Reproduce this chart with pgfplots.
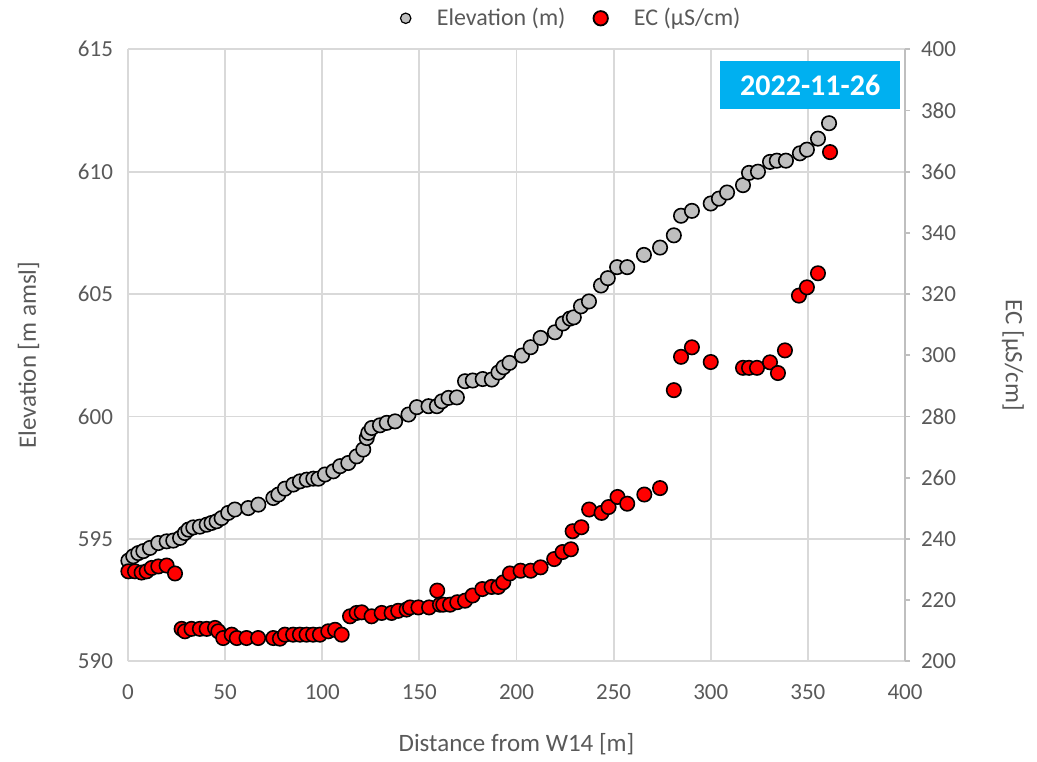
\documentclass[border=0pt]{standalone}
\usepackage{pgfplots}
\pgfplotsset{compat=1.18}
\usepackage{fontspec}
\setmainfont{Carlito}
\definecolor{gridc}{HTML}{D9D9D9}
\definecolor{txt}{HTML}{595959}
\definecolor{elev}{HTML}{BFBFBF}
\definecolor{ecc}{HTML}{FF0000}
\definecolor{datebox}{HTML}{00B0F0}
\begin{document}
\begin{tikzpicture}
\pgfplotsset{
  common/.style={
    scale only axis, width=388.5pt, height=306pt,
    at={(0,0)}, anchor=south west,
    xmin=0, xmax=400,
    /pgf/number format/assume math mode=true,
    tick label style={font=\fontsize{11.5}{13}\selectfont, text=txt},
    label style={font=\fontsize{12.5}{14}\selectfont, text=txt},
  }
}
\begin{axis}[common,
  ymin=590, ymax=615, ytick={590,595,...,615},
  xtick={0,50,...,400},
  grid=major, grid style={gridc, line width=0.9pt},
  axis line style={gridc, line width=0.9pt},
  axis x line*=bottom, axis y line*=left,
  major tick length=0pt,
  xticklabel style={yshift=-8pt},
  yticklabel style={xshift=-4pt},
  xlabel={Distance from W14 [m]},
  ylabel={Elevation [m amsl]},
  xlabel style={yshift=-10pt},
  ylabel style={yshift=12.5pt},
  legend columns=2,
  legend style={at={(0.5,1)}, anchor=center, xshift=28pt, yshift=15.5pt, draw=none, fill=none,
    font=\fontsize{12}{14}\selectfont\color{txt},
    /tikz/every odd column/.append style={column sep=11pt},
    /tikz/every even column/.append style={column sep=12pt}},
]
\addplot[only marks, mark=*, mark size=3.6pt, mark options={fill=elev, draw=black, line width=0.8pt}, forget plot] coordinates {
(0.2,594.11) (2.7,594.29) (5.3,594.42) (7.9,594.5) (11.3,594.63) (15.6,594.83)
(19.9,594.9) (23.3,594.93) (26.8,595.04) (29.3,595.24) (31.1,595.38) (33.6,595.47)
(37,595.5) (40.5,595.58) (43,595.65) (45.6,595.72) (48.2,595.85) (51.6,596.06)
(55,596.2) (61.9,596.26) (67.1,596.4) (74.8,596.67) (77.4,596.81) (80.8,597.05)
(85.1,597.22) (88.5,597.35) (92,597.42) (95.4,597.46) (98,597.46) (101.4,597.63)
(105.7,597.76) (109.2,597.97) (113.4,598.1) (117.7,598.37) (121.1,598.65) (122.9,599.12)
(123.7,599.33) (125.5,599.53) (129.7,599.64) (133.2,599.74) (137.5,599.8) (144.4,600.08)
(148.7,600.38) (154.7,600.42) (159,600.42) (161.6,600.62) (165,600.76) (169.3,600.78)
(173.5,601.44) (177.5,601.47) (182.6,601.53) (187.3,601.51) (190.7,601.8) (193.3,602.01)
(196.4,602.19) (202.8,602.49) (207.3,602.83) (212.4,603.21) (219.8,603.44) (223.9,603.8)
(227.5,604.0) (229.5,604.05) (233.2,604.5) (237.3,604.7) (243.5,605.35) (247,605.65)
(251.8,606.1) (257,606.1) (265.6,606.6) (273.9,606.9) (281,607.4) (284.7,608.2)
(290.3,608.4) (300,608.7) (304.2,608.9) (308.4,609.15) (316.6,609.45) (319.7,609.95)
(324.3,610.0) (330.5,610.4) (334,610.45) (338.7,610.45) (345.9,610.75) (349.5,610.9)
(355.2,611.35) (360.9,611.98)
};
\addlegendimage{only marks, mark=*, mark size=2.6pt, mark options={fill=elev, draw=black, line width=0.6pt}}
\addlegendentry{Elevation (m)}
\addlegendimage{only marks, mark=*, mark size=3.6pt, mark options={fill=ecc, draw=black, line width=0.9pt}}
\addlegendentry{EC (µS/cm)}
\end{axis}
\begin{axis}[common,
  ymin=200, ymax=400, ytick={200,220,...,400},
  axis x line=none, axis y line*=right,
  axis line style={elev, line width=0.9pt},
  ytick style={elev, line width=0.9pt},
  tick align=outside, major tick length=2.5pt,
  yticklabel style={xshift=2pt},
  ylabel={EC [µS/cm]},
  ylabel style={rotate=180, yshift=16pt},
]
\addplot[only marks, mark=*, mark size=3.6pt, mark options={fill=ecc, draw=black, line width=0.8pt}] coordinates {
(0.2,229.4) (3.6,229.4) (7,229.0) (9.6,229.4) (12.2,230.5) (15.6,231) (19.9,231.3)
(24.2,228.7) (27.6,210.6) (29.3,209.8) (32.7,210.6) (37,210.6) (40.5,210.6) (44.8,210.9)
(46.5,209.8) (49,207.6) (53.4,208.7) (56,207.6) (61,207.6) (67,207.6) (74.8,207.6)
(78.2,207.4) (80.8,208.7) (85,208.7) (88.5,208.7) (91.9,208.7) (95.3,208.7) (98.8,208.7)
(103.1,209.8) (106.6,210.3) (110,208.7) (114.3,214.7) (117.7,215.8) (120.3,216)
(125.4,214.7) (130.6,215.8) (135.7,215.8) (139.1,216.5) (143.4,216.9) (145.2,217.6)
(149.5,217.6) (155,217.6) (159.2,223.1) (160.6,218.5) (162.3,218.5) (165.8,218.5)
(169.5,219.3) (173.5,219.8) (177.4,221.5) (182.4,223.6) (187.2,224.3) (190.6,224.3)
(193.2,225.8) (196.6,228.7) (202.1,229.6) (207.3,229.6) (212.4,230.7) (219.4,233.4)
(223.7,235.7) (228,236.6) (228.9,242.5) (233.4,243.8) (237.4,249.6) (243.8,248.5)
(247.4,250.4) (252,253.7) (257,251.5) (265.8,254.5) (273.9,256.6) (281,288.6)
(284.7,299.5) (290.3,302.6) (300,297.8) (316.6,295.9) (319.7,295.9) (323.8,295.9)
(330.5,297.7) (334.6,294.2) (338.2,301.6) (345.4,319.5) (349.5,322.2) (355.2,326.8)
(361.4,366.4)
};
\node[fill=datebox, text=white, font=\fontsize{15}{17}\selectfont\bfseries,
  minimum width=90pt, minimum height=24pt, inner sep=0pt]
  at (rel axis cs:0.878,0.941) {2022-11-26};
\end{axis}
\useasboundingbox (-64pt,-48pt) rectangle (454.5pt,330pt);
\end{tikzpicture}
\end{document}
